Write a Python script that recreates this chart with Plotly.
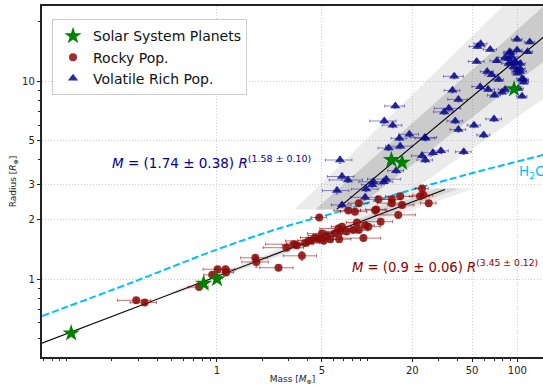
import numpy as np
import plotly.graph_objects as go

# ---------------- data ----------------
solar_names = ["Mars", "Venus", "Earth", "Uranus", "Neptune", "Saturn"]
solar_mass = [0.107, 0.815, 1.0, 14.5, 17.1, 95.2]
solar_radius = [0.532, 0.949, 1.0, 4.01, 3.88, 9.14]

rocky_mass = [0.29, 0.33, 0.76, 0.93, 1.01, 1.14, 1.15, 1.80, 1.83, 2.57,
              3.68, 3.24, 3.87, 4.08, 4.29, 4.8, 4.75, 5.0, 5.13, 5.68,
              6.51, 6.45, 6.6, 6.8, 7.3, 8.1, 8.55, 8.8, 9.45, 10.2,
              11.3, 7.5, 8.3, 9.7, 11.5, 11.9, 14.6, 14.6, 16.6, 17.1,
              16.1, 22.5, 23.2, 23.7, 25.7, 8.8, 5.4, 6.1, 4.5, 2.9,
              12.3, 3.4]
rocky_radius = [0.78, 0.76, 0.91, 1.05, 1.12, 1.12, 1.08, 1.28, 1.22, 1.14,
                1.31, 1.50, 1.52, 1.56, 1.57, 2.05, 1.59, 1.70, 1.56, 1.59,
                1.59, 1.80, 1.74, 1.84, 1.74, 1.77, 1.93, 1.77, 1.61, 1.84,
                2.23, 2.22, 2.19, 1.87, 2.25, 2.53, 2.53, 2.42, 2.62, 2.37,
                2.11, 2.62, 2.87, 2.66, 2.42, 2.42, 1.66, 1.70, 1.62, 1.44,
                1.95, 1.48]
rocky_mass_relerr = [0.25, 0.20, 0.15, 0.12, 0.20, 0.15, 0.12, 0.20, 0.20, 0.25,
                     0.25, 0.35, 0.25, 0.30, 0.20, 0.12, 0.15, 0.20, 0.15, 0.15,
                     0.20, 0.25, 0.20, 0.15, 0.20, 0.25, 0.15, 0.15, 0.30, 0.20,
                     0.20, 0.20, 0.20, 0.15, 0.15, 0.20, 0.15, 0.20, 0.20, 0.20,
                     0.30, 0.15, 0.10, 0.15, 0.12, 0.15, 0.25, 0.20, 0.20, 0.30,
                     0.20, 0.20]
rocky_radius_relerr = [0.03, 0.03, 0.03, 0.03, 0.03, 0.03, 0.03, 0.04, 0.06, 0.03,
                       0.05, 0.03, 0.03, 0.03, 0.03, 0.03, 0.03, 0.04, 0.03, 0.03,
                       0.03, 0.04, 0.03, 0.03, 0.03, 0.03, 0.03, 0.03, 0.03, 0.03,
                       0.03, 0.03, 0.03, 0.03, 0.03, 0.03, 0.03, 0.03, 0.03, 0.03,
                       0.03, 0.03, 0.03, 0.03, 0.03, 0.03, 0.03, 0.03, 0.03, 0.03,
                       0.03, 0.03]

vol_mass = [15.4, 13.0, 14.8, 19.1, 16.4, 24.5, 16.6, 13.9, 6.6, 44.0,
            23.2, 24.4, 27.4, 31.0, 6.8, 7.45, 11.0, 12.9, 13.4, 15.6,
            6.3, 9.85, 10.8, 9.7, 6.8,
            38.0, 37.0, 40.5, 35.0, 32.6, 38.6, 40.5, 51.5, 59.7, 70.0, 24.2,
            54.3, 57.0, 66.0, 99.6, 121.0, 53.6, 73.0, 63.0, 89.7, 99.6,
            87.4, 117.0, 97.0, 92.0, 83.0, 104.5, 94.5, 99.6, 67.6, 75.0,
            104.5, 107.5, 110.0, 56.6, 64.0, 83.0, 79.0, 70.3, 101.5, 107.5,
            88.7, 91.9, 96.8, 104.5, 87.4, 100.0, 110.0]
vol_radius = [7.5, 6.3, 6.0, 5.4, 5.15, 5.15, 4.7, 4.6, 4.0, 4.4,
              4.2, 4.0, 4.35, 4.45, 3.3, 3.17, 3.1, 3.1, 3.2, 3.53,
              2.8, 2.85, 3.0, 2.59, 2.37,
              10.6, 9.0, 8.1, 7.3, 7.0, 6.3, 5.7, 6.0, 5.35, 6.45, 5.2,
              15.0, 15.5, 14.5, 16.3, 15.8, 12.6, 12.7, 11.2, 13.9, 14.4,
              13.0, 14.1, 12.6, 12.3, 13.2, 12.3, 11.8, 11.4, 10.8, 10.2,
              11.2, 10.3, 9.9, 9.4, 9.1, 9.1, 8.8, 8.5, 9.2, 8.4,
              14.1, 13.3, 12.4, 11.6, 12.3, 11.0, 10.2]
vol_mass_relerr = [0.15, 0.20, 0.15, 0.15, 0.12, 0.15, 0.20, 0.15, 0.20, 0.12,
                   0.15, 0.12, 0.15, 0.12, 0.20, 0.25, 0.20, 0.15, 0.25, 0.12,
                   0.20, 0.20, 0.15, 0.20, 0.15,
                   0.15, 0.12, 0.15, 0.20, 0.15, 0.12, 0.12, 0.10, 0.10, 0.12, 0.20,
                   0.12, 0.10, 0.10, 0.08, 0.08, 0.12, 0.10, 0.10, 0.10, 0.08,
                   0.10, 0.08, 0.10, 0.08, 0.10, 0.08, 0.10, 0.08, 0.10, 0.08,
                   0.10, 0.08, 0.08, 0.12, 0.10, 0.10, 0.10, 0.10, 0.08, 0.08,
                   0.08, 0.10, 0.08, 0.08, 0.10, 0.08, 0.08]
vol_radius_relerr = [0.03, 0.03, 0.03, 0.03, 0.03, 0.03, 0.03, 0.03, 0.04, 0.03,
                     0.03, 0.03, 0.03, 0.03, 0.04, 0.03, 0.03, 0.03, 0.03, 0.03,
                     0.04, 0.03, 0.03, 0.03, 0.03,
                     0.03, 0.03, 0.03, 0.03, 0.03, 0.03, 0.03, 0.03, 0.03, 0.03, 0.03,
                     0.02, 0.02, 0.02, 0.02, 0.02, 0.02, 0.02, 0.02, 0.02, 0.02,
                     0.02, 0.02, 0.02, 0.02, 0.02, 0.02, 0.02, 0.02, 0.02, 0.02,
                     0.02, 0.02, 0.02, 0.02, 0.02, 0.02, 0.02, 0.02, 0.02, 0.02,
                     0.02, 0.02, 0.02, 0.02, 0.02, 0.02, 0.02]

# fits  M = A * R^b
rocky_fit = (0.9, 3.45)
rocky_fit_R_range = (0.4, 2.84)
rocky_band_inner = ([0.88, 0.92], [3.30, 3.60])
rocky_band_outer = ([0.86, 0.94], [3.10, 3.80])
rocky_band_R_range = (0.85, 2.88)

vol_fit = (1.74, 1.58)
vol_fit_R_range = (2.25, 30.0)
vol_band_inner = ([1.36, 2.12], [1.48, 1.68])
vol_band_outer = ([1.10, 2.88], [1.35, 1.88])
vol_band_R_range = (2.25, 30.0)

# pure water composition curve (mass, radius)
h2o_mass = [0.0687, 0.277, 1.0, 2.64, 6.32, 16.6, 32.1, 56.6, 148.6, 200.0]
h2o_radius = [0.650, 0.966, 1.41, 1.81, 2.18, 2.72, 3.13, 3.52, 4.24, 4.50]

x_major = [1, 5, 20, 50, 100]
y_major = [1, 2, 3, 5, 10]

# ---------------- figure ----------------
FONT = "DejaVu Sans"
fig = go.Figure()


def band(params, rrange, color):
    As, bs = params
    R = np.logspace(np.log10(rrange[0]), np.log10(rrange[1]), 200)
    Ms = np.array([a * R ** b for a in As for b in bs])
    lo, hi = Ms.min(axis=0), Ms.max(axis=0)
    fig.add_trace(go.Scatter(
        x=np.concatenate([lo, hi[::-1]]), y=np.concatenate([R, R[::-1]]),
        fill="toself", fillcolor=color, mode="lines", line=dict(width=0),
        hoverinfo="skip", showlegend=False))


def fitline(fit, rrange):
    A, b = fit
    R = np.logspace(np.log10(rrange[0]), np.log10(rrange[1]), 100)
    fig.add_trace(go.Scatter(x=A * R ** b, y=R, mode="lines",
                             line=dict(color="black", width=1.1),
                             hoverinfo="skip", showlegend=False))


band(vol_band_outer, vol_band_R_range, "rgba(128,128,128,0.16)")
band(vol_band_inner, vol_band_R_range, "rgba(128,128,128,0.30)")
band(rocky_band_outer, rocky_band_R_range, "rgba(128,128,128,0.14)")
band(rocky_band_inner, rocky_band_R_range, "rgba(128,128,128,0.22)")

fig.add_trace(go.Scatter(x=h2o_mass, y=h2o_radius, mode="lines",
                         line=dict(color="#00BFFF", width=2, dash="7px,3px", shape="spline"),
                         hoverinfo="skip", showlegend=False))

fitline(vol_fit, vol_fit_R_range)
fitline(rocky_fit, rocky_fit_R_range)

fig.add_trace(go.Scatter(
    x=rocky_mass, y=rocky_radius, mode="markers", name="Rocky Pop.",
    marker=dict(symbol="circle", size=8, color="rgba(139,10,10,0.85)", line=dict(width=0)),
    error_x=dict(type="data", array=[m * e for m, e in zip(rocky_mass, rocky_mass_relerr)],
                 color="rgba(139,0,0,0.55)", thickness=1, width=1.5),
    error_y=dict(type="data", array=[r * e for r, e in zip(rocky_radius, rocky_radius_relerr)],
                 color="rgba(139,0,0,0.55)", thickness=1, width=1.5),
    legendrank=2))

fig.add_trace(go.Scatter(
    x=vol_mass, y=vol_radius, mode="markers", name="Volatile Rich Pop.",
    marker=dict(symbol="triangle-up", size=9, color="rgba(10,10,139,0.85)", line=dict(width=0)),
    error_x=dict(type="data", array=[m * e for m, e in zip(vol_mass, vol_mass_relerr)],
                 color="rgba(0,0,139,0.45)", thickness=1, width=1.5),
    error_y=dict(type="data", array=[r * e for r, e in zip(vol_radius, vol_radius_relerr)],
                 color="rgba(0,0,139,0.45)", thickness=1, width=1.5),
    legendrank=3))

fig.add_trace(go.Scatter(
    x=solar_mass, y=solar_radius, mode="markers", name="Solar System Planets",
    text=solar_names, marker=dict(symbol="star", size=13, color="green", line=dict(width=0)),
    legendrank=1))

x_minor = [v * 10.0 ** k for k in (-2, -1, 0, 1, 2) for v in range(1, 10)]
x_minor = [v for v in x_minor if 0.068 <= v <= 150 and round(v, 6) not in x_major]
y_minor = [v * 10.0 ** k for k in (-1, 0, 1) for v in range(1, 10)]
y_minor = [v for v in y_minor if 0.4 <= v <= 24 and round(v, 6) not in y_major]

axis_common = dict(
    type="log", showline=True, linecolor="#222", linewidth=1.5,
    ticks="outside", ticklen=3.5, tickwidth=1, tickcolor="#222",
    showgrid=True, gridcolor="#cfcfcf", griddash="1px,2px", gridwidth=1,
    zeroline=False, tickfont=dict(family=FONT, size=10, color="#222"),
)

fig.update_xaxes(**axis_common, range=[-1.165, 2.171], tickmode="array",
                 tickvals=x_major, ticktext=[str(v) for v in x_major], mirror=True,
                 minor=dict(tickmode="array", tickvals=x_minor, ticks="outside",
                            ticklen=2, tickcolor="#222", showgrid=False),
                 title=dict(text="Mass [<i>M</i><sub>⊕</sub>]", font=dict(family=FONT, size=9, color="#222"),
                            standoff=2))
fig.update_yaxes(**axis_common, range=[-0.3945, 1.381], tickmode="array",
                 tickvals=y_major, ticktext=[str(v) for v in y_major], mirror=False,
                 minor=dict(tickmode="array", tickvals=y_minor, ticks="outside",
                            ticklen=2, tickcolor="#222", showgrid=False),
                 title=dict(text="Radius [<i>R</i><sub>⊕</sub>]", font=dict(family=FONT, size=9, color="#222"),
                            standoff=4))

fig.add_annotation(xref="paper", yref="paper", x=0.1357, y=0.5556, xanchor="left", yanchor="middle",
                   text="<i>M</i> = (1.74 ± 0.38) <i>R</i><sup>(1.58 ± 0.10)</sup>",
                   showarrow=False, font=dict(family=FONT, size=13.5, color="#00008B"))
fig.add_annotation(xref="paper", yref="paper", x=0.614, y=0.259, xanchor="left", yanchor="middle",
                   text="<i>M</i> = (0.9 ± 0.06) <i>R</i><sup>(3.45 ± 0.12)</sup>",
                   showarrow=False, font=dict(family=FONT, size=13.2, color="#8B0000"))
fig.add_annotation(xref="paper", yref="paper", x=0.948, y=0.527, xanchor="left", yanchor="middle",
                   text="H<sub>2</sub>O", showarrow=False,
                   font=dict(family=FONT, size=13.5, color="#00BFFF"))

fig.update_layout(
    width=543, height=385,
    margin=dict(l=42, r=0, t=6, b=28, autoexpand=False),
    paper_bgcolor="white", plot_bgcolor="white",
    font=dict(family=FONT),
    legend=dict(x=0.02, y=0.962, xanchor="left", yanchor="top",
                bgcolor="white", bordercolor="#cccccc", borderwidth=1,
                font=dict(family=FONT, size=14, color="#111"), tracegroupgap=0),
)

fig.write_html("out.html")
